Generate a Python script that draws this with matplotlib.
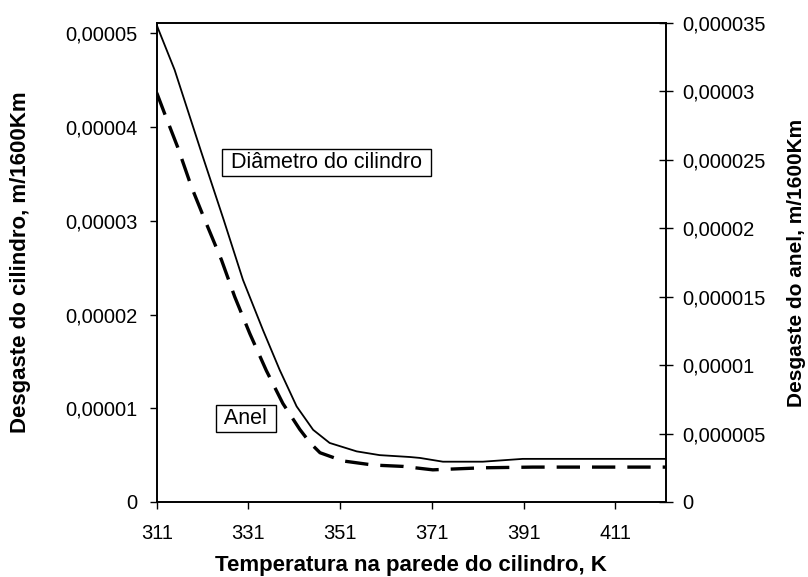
import matplotlib
matplotlib.use('Agg')
import matplotlib.pyplot as plt
from matplotlib.ticker import FuncFormatter

plt.rcParams['font.family'] = ['Liberation Sans', 'DejaVu Sans']

# cylinder wear (left axis)
temp_cil = [311, 311.3, 314.9, 320.6, 325.6, 329.8, 334.2, 337.8, 341.5, 345.1,
            348.7, 354.6, 359.6, 366.2, 368.4, 373.4, 382.1, 390.8, 422]
wear_cil = [5.09e-5, 5.05e-5, 4.61e-5, 3.75e-5, 3.01e-5, 2.37e-5, 1.83e-5, 1.41e-5,
            1.02e-5, 0.77e-5, 0.63e-5, 0.54e-5, 0.50e-5, 0.48e-5, 0.47e-5, 0.43e-5,
            0.43e-5, 0.46e-5, 0.46e-5]

# ring wear (right axis)
temp_anel = [311, 312.7, 315.6, 318.6, 321.5, 325.1, 328.0, 331.3, 334.9, 338.5,
             342.2, 344.5, 346.6, 351.6, 358.2, 364.7, 371.2, 382.1, 393.0, 422]
wear_anel = [2.99e-5, 2.84e-5, 2.59e-5, 2.30e-5, 2.06e-5, 1.77e-5, 1.50e-5, 1.23e-5,
             0.96e-5, 0.72e-5, 0.53e-5, 0.43e-5, 0.36e-5, 0.30e-5, 0.27e-5, 0.26e-5,
             0.235e-5, 0.25e-5, 0.255e-5, 0.255e-5]

x_ticks = [311, 331, 351, 371, 391, 411]
left_ticks = [0, 1e-5, 2e-5, 3e-5, 4e-5, 5e-5]
right_ticks = [0, 0.5e-5, 1e-5, 1.5e-5, 2e-5, 2.5e-5, 3e-5, 3.5e-5]


def comma_fmt(v, pos):
    if v == 0:
        return '0'
    s = ('%.6f' % v).rstrip('0')
    return s.replace('.', ',')


fig = plt.figure(figsize=(8.08, 5.77), dpi=100)
ax = fig.add_axes([0.194, 0.130, 0.630, 0.830])
ax2 = ax.twinx()

ax.plot(temp_cil, wear_cil, '-', color='black', linewidth=1.3)
ax2.plot(temp_anel, wear_anel, color='black', linewidth=2.4, dashes=(7, 3.6))

ax.set_xlim(311, 422)
ax.set_ylim(0, 5.11e-5)
ax2.set_ylim(0, 3.5e-5)

ax.set_xticks(x_ticks)
ax.set_yticks(left_ticks)
ax2.set_yticks(right_ticks)
ax.yaxis.set_major_formatter(FuncFormatter(comma_fmt))
ax2.yaxis.set_major_formatter(FuncFormatter(comma_fmt))

ax.tick_params(axis='both', labelsize=14.5, length=5, width=1, direction='out', pad=9)
ax.tick_params(axis='x', pad=11)
ax2.tick_params(axis='y', labelsize=14.5, length=10, width=1, direction='inout', pad=7)
for a in (ax, ax2):
    for sp in a.spines.values():
        sp.set_linewidth(1.2)

ax.set_xlabel('Temperatura na parede do cilindro, K', fontsize=16, fontweight='bold', va='center')
ax.set_ylabel('Desgaste do cilindro, m/1600Km', fontsize=16, fontweight='bold', va='center')
ax2.set_ylabel('Desgaste do anel, m/1600Km', fontsize=15, fontweight='bold', va='center')
ax.xaxis.set_label_coords(0.5, -0.133)
ax.yaxis.set_label_coords(-0.267, 0.5)
ax2.yaxis.set_label_coords(1.257, 0.5)

box = dict(boxstyle='square,pad=0.15', facecolor='white', edgecolor='black', linewidth=1)
ax.text(348.0, 3.62e-5, ' Diâmetro do cilindro ', fontsize=15.5, va='center', ha='center', bbox=box)
ax.text(330.4, 0.89e-5, ' Anel ', fontsize=15.5, va='center', ha='center', bbox=box)

fig.savefig('out.png', dpi=100)
